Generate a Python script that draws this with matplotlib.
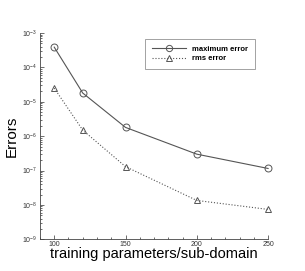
import numpy as np
import matplotlib.pyplot as plt
from matplotlib.ticker import LogLocator, MultipleLocator, NullFormatter

params = [100, 120, 150, 200, 250]
max_error = [3.9e-4, 1.8e-5, 1.8e-6, 3.0e-7, 1.15e-7]
rms_error = [2.5e-5, 1.5e-6, 1.3e-7, 1.35e-8, 7.4e-9]

plt.rcParams['font.family'] = ['Liberation Sans', 'DejaVu Sans']

fig = plt.figure(figsize=(3.05, 2.71), dpi=100)
ax = fig.add_axes([0.131, 0.117, 0.748, 0.761])

ax.semilogy(params, max_error, '-', color='#555555', lw=0.8, clip_on=False,
            marker='o', ms=5, mfc='none', mec='#555555', mew=0.7, label='maximum error')
ax.semilogy(params, rms_error, ':', color='#555555', lw=0.8, clip_on=False,
            marker='^', ms=5, mfc='none', mec='#555555', mew=0.7, label='rms error')

ax.set_xlim(90, 250)
ax.set_ylim(1e-9, 1e-3)
ax.set_xticks([100, 150, 200, 250])
ax.xaxis.set_minor_locator(MultipleLocator(10))
ax.yaxis.set_major_locator(LogLocator(base=10, numticks=10))
ax.yaxis.set_minor_locator(LogLocator(base=10, subs=np.arange(2, 10), numticks=20))
ax.yaxis.set_minor_formatter(NullFormatter())

ax.tick_params(which='both', direction='in', labelsize=5, colors='#333333', width=0.5)
ax.tick_params(which='major', length=3)
ax.tick_params(which='minor', length=1.5)
ax.tick_params(axis='x', pad=1.5)
ax.tick_params(axis='y', pad=2)

for s in ['top', 'right']:
    ax.spines[s].set_visible(False)
for s in ['left', 'bottom']:
    ax.spines[s].set_linewidth(0.6)
    ax.spines[s].set_color('#444444')

ax.set_xlabel('training parameters/sub-domain', fontsize=10.5, labelpad=-1)
ax.set_ylabel('Errors', fontsize=11, labelpad=2)

leg = ax.legend(loc='upper right', bbox_to_anchor=(0.96, 0.99), fontsize=5.5,
                frameon=True, fancybox=False, edgecolor='#777777',
                handlelength=4.5, borderpad=0.9, labelspacing=0.25, markerscale=0.9)
leg.get_frame().set_linewidth(0.6)
for t in leg.get_texts():
    t.set_fontweight('bold')

fig.savefig('out.png', dpi=100)
